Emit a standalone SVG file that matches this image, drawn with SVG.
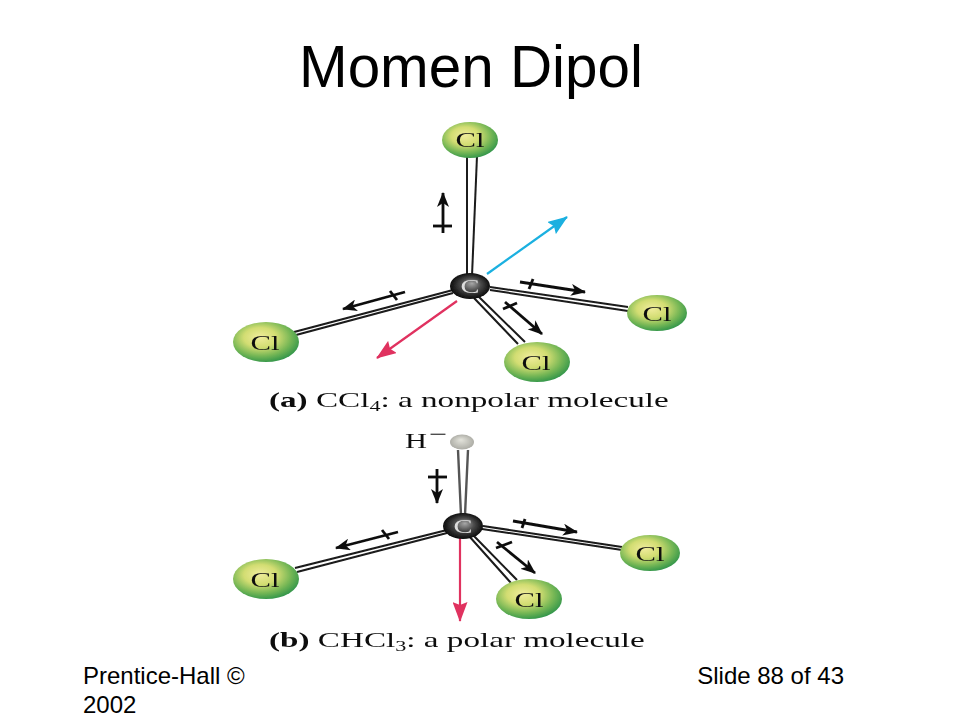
<svg xmlns="http://www.w3.org/2000/svg" width="960" height="720" viewBox="0 0 960 720">
<style>
.sans{font-family:"Liberation Sans",Arial,sans-serif;fill:#000}
.foot{font-size:24px}
.serif{font-family:"Liberation Serif","Times New Roman",serif;fill:#111}
.clt{font-size:22px;text-anchor:middle}
.cap{font-size:21px}
.sub{font-size:14px}
.cl{fill:url(#clg)}
.bond{stroke:#1a1a1a;stroke-width:2;fill:none}
.dip{stroke:#111;stroke-width:2.8;fill:none;marker-end:url(#ah)}
.tick{stroke:#111;stroke-width:2.8;fill:none}
.blue{stroke:#1ab0e0;stroke-width:2.2;fill:none;marker-end:url(#ahb)}
.red{stroke:#e0305f;stroke-width:2.2;fill:none;marker-end:url(#ahr)}
</style>
<defs>
<filter id="soft" x="-5%" y="-5%" width="110%" height="110%"><feGaussianBlur stdDeviation="0.45"/></filter>
<radialGradient id="clg" cx="0.43" cy="0.4" r="0.62" fx="0.4" fy="0.38">
<stop offset="0" stop-color="#f0ec9c"/><stop offset="0.4" stop-color="#d2dd72"/><stop offset="0.75" stop-color="#72b554"/><stop offset="1" stop-color="#33964b"/>
</radialGradient>
<radialGradient id="cg" cx="0.5" cy="0.5" r="0.55" fx="0.55" fy="0.4">
<stop offset="0" stop-color="#a8a8a8"/><stop offset="0.45" stop-color="#4a4a4a"/><stop offset="1" stop-color="#000"/>
</radialGradient>
<radialGradient id="hg" cx="0.5" cy="0.5" r="0.55" fx="0.45" fy="0.35">
<stop offset="0" stop-color="#e4e4dc"/><stop offset="1" stop-color="#a9a9a2"/>
</radialGradient>
<marker id="ah" viewBox="0 0 15 12" refX="14" refY="6" markerWidth="15" markerHeight="12" markerUnits="userSpaceOnUse" orient="auto"><path d="M0,0 L15,6 L0,12 L4,6 Z" fill="#111"/></marker>
<marker id="ahb" viewBox="0 0 20 15" refX="19" refY="7.5" markerWidth="20" markerHeight="15" markerUnits="userSpaceOnUse" orient="auto"><path d="M0,0 L20,7.5 L0,15 L3,7.5 Z" fill="#1ab0e0"/></marker>
<marker id="ahr" viewBox="0 0 20 15" refX="19" refY="7.5" markerWidth="20" markerHeight="15" markerUnits="userSpaceOnUse" orient="auto"><path d="M0,0 L20,7.5 L0,15 L3,7.5 Z" fill="#e0305f"/></marker>
</defs>
<text id="title" class="sans" x="471" y="87" font-size="58.4" text-anchor="middle">Momen Dipol</text>
<g id="figure" filter="url(#soft)">
<g id="connectors">
<path class="bond" d="M467,156L467,276M477,156L472,276"/>
<path class="bond" d="M294,332L453,290M296,335L453,293"/>
<path class="bond" d="M490,287L628,307M490,290L628,311"/>
<path class="bond" d="M478,296L525,342M474,298L518,344"/>
<path class="dip" d="M443,233L443,193"/><path class="tick" d="M433,226L452,226"/>
<path class="dip" d="M405,292L343,309"/><path class="tick" d="M390,291L397,300"/>
<path class="dip" d="M520,282L585,292"/><path class="tick" d="M533,279L529,289"/>
<path class="dip" d="M505,302L542,334"/><path class="tick" d="M503,309L517,303"/>
<path class="blue" d="M487,274L567,217"/>
<path class="red" d="M457,301L377,358"/>
<path class="bond" d="M458,450L461,515M468,450L465,515" style="stroke:#555;stroke-width:2.4"/>
<path class="bond" d="M295,568L447,530M297,572L447,533"/>
<path class="bond" d="M483,526L622,547M482,529L622,550"/>
<path class="bond" d="M472,534L517,580M469,536L511,583"/>
<path class="dip" d="M437,469L437,503"/><path class="tick" d="M428,477L447,477"/>
<path class="dip" d="M398,532L336,548"/><path class="tick" d="M382,530L389,539"/>
<path class="dip" d="M513,521L577,532"/><path class="tick" d="M525,519L522,528"/>
<path class="dip" d="M497,542L535,573"/><path class="tick" d="M496,548L512,542"/>
<path class="red" d="M460,537L460,621"/>
</g>
<g id="a-cl-top"><ellipse class="cl" cx="470" cy="140" rx="28" ry="18"/><text class="serif clt" x="470" y="147" textLength="29" lengthAdjust="spacingAndGlyphs">Cl</text></g>
<g id="a-cl-left"><ellipse class="cl" cx="266" cy="342" rx="33" ry="20"/><text class="serif clt" x="265" y="350" textLength="29" lengthAdjust="spacingAndGlyphs">Cl</text></g>
<g id="a-cl-right"><ellipse class="cl" cx="657" cy="313" rx="30" ry="18"/><text class="serif clt" x="657" y="321" textLength="29" lengthAdjust="spacingAndGlyphs">Cl</text></g>
<g id="a-cl-bottom"><ellipse class="cl" cx="537" cy="362" rx="33" ry="20"/><text class="serif clt" x="536" y="370" textLength="29" lengthAdjust="spacingAndGlyphs">Cl</text></g>
<g id="a-c"><ellipse cx="470" cy="286" rx="20" ry="13" fill="url(#cg)"/><text class="serif" x="470" y="293" font-size="19" text-anchor="middle" textLength="19" lengthAdjust="spacingAndGlyphs" style="fill:#ddd">C</text></g>
<text id="caption-a" class="serif cap" transform="translate(269 407) scale(1.58 1)"><tspan font-weight="bold">(a)</tspan> CCl<tspan class="sub" dy="4">4</tspan><tspan dy="-4">: a nonpolar molecule</tspan></text>
<g id="b-h"><ellipse cx="462" cy="442" rx="12" ry="7.5" fill="url(#hg)"/><text class="serif" x="405" y="448" font-size="21" textLength="22" lengthAdjust="spacingAndGlyphs">H</text><text class="serif" x="429" y="441" font-size="21" textLength="18" lengthAdjust="spacingAndGlyphs">−</text></g>
<g id="b-c"><ellipse cx="463" cy="526" rx="20" ry="13" fill="url(#cg)"/><text class="serif" x="463" y="533" font-size="19" text-anchor="middle" textLength="19" lengthAdjust="spacingAndGlyphs" style="fill:#ddd">C</text></g>
<g id="b-cl-left"><ellipse class="cl" cx="266" cy="579" rx="33" ry="20"/><text class="serif clt" x="265" y="587" textLength="29" lengthAdjust="spacingAndGlyphs">Cl</text></g>
<g id="b-cl-right"><ellipse class="cl" cx="650" cy="553" rx="30" ry="18"/><text class="serif clt" x="650" y="561" textLength="29" lengthAdjust="spacingAndGlyphs">Cl</text></g>
<g id="b-cl-bottom"><ellipse class="cl" cx="529" cy="599" rx="33" ry="20"/><text class="serif clt" x="529" y="607" textLength="29" lengthAdjust="spacingAndGlyphs">Cl</text></g>
<text id="caption-b" class="serif cap" transform="translate(269 647) scale(1.58 1)"><tspan font-weight="bold">(b)</tspan> CHCl<tspan class="sub" dy="4">3</tspan><tspan dy="-4">: a polar molecule</tspan></text>
</g>
<text id="footer-left" class="sans foot" x="83" y="684">Prentice-Hall ©<tspan x="83" y="713">2002</tspan></text>
<text id="footer-right" class="sans foot" x="844" y="684" text-anchor="end">Slide 88 of 43</text>
</svg>
